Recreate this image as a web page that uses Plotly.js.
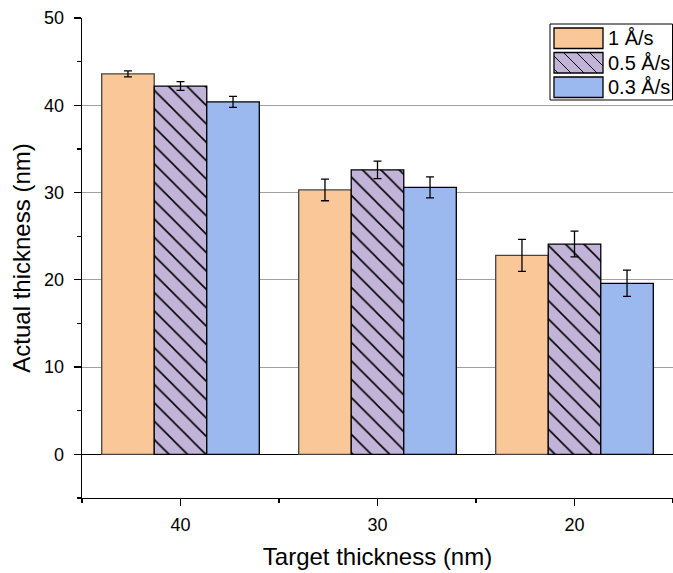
<!DOCTYPE html>
<html>
<head>
<meta charset="utf-8">
<script src="https://cdn.plot.ly/plotly-3.0.1.min.js"></script>
<style>html,body{margin:0;padding:0;background:#fff;}#chart{width:673px;height:573px;}</style>
</head>
<body>
<div id="chart"></div>
<script>
const categories = ['40', '30', '20'];
const seriesNames = ['1 Å/s', '0.5 Å/s', '0.3 Å/s'];
const rate1 = [43.6, 30.3, 22.8];
const rate1Err = [0.35, 1.24, 1.84];
const rate05 = [42.2, 32.6, 24.1];
const rate05Err = [0.5, 1.0, 1.47];
const rate03 = [40.4, 30.6, 19.6];
const rate03Err = [0.63, 1.2, 1.5];

const xpos = categories.map((c, i) => i);
const font = 'Liberation Sans, Arial, sans-serif';
const fills = ['#FAC898', '#C2B4D8', '#9BB9EF'];
const outlines = ['#444', '#000', '#000'];

function errBar(arr) {
  return {type: 'data', array: arr, visible: true, color: '#000', thickness: 1.3, width: 4};
}

const traces = [
  {type: 'bar', name: seriesNames[0], x: xpos, y: rate1, error_y: errBar(rate1Err),
   marker: {color: fills[0], line: {color: outlines[0], width: 1.3}}},
  {type: 'bar', name: seriesNames[1], x: xpos, y: rate05, error_y: errBar(rate05Err),
   marker: {color: fills[1], line: {color: outlines[1], width: 1.3},
            pattern: {shape: '\\', fgcolor: '#000', bgcolor: fills[1], size: 13, solidity: 0.12}}},
  {type: 'bar', name: seriesNames[2], x: xpos, y: rate03, error_y: errBar(rate03Err),
   marker: {color: fills[2], line: {color: outlines[2], width: 1.3}}}
];

// plot area geometry (pixels) for the custom legend
const M = {l: 82, r: 0, t: 18, b: 75};
const W = 673, H = 573;
const pw = W - M.l - M.r, ph = H - M.t - M.b;
const px = v => (v - M.l) / pw;
const py = v => (H - M.b - v) / ph;

const shapes = [];
const annotations = [];
// legend frame
shapes.push({type: 'rect', xref: 'paper', yref: 'paper', x0: px(550), x1: px(672.5), y0: py(100), y1: py(24),
             line: {color: '#000', width: 1}, fillcolor: '#fff', layer: 'above'});
const rowTop = [28, 52.5, 77], swH = 20.5, swX0 = 554, swX1 = 603;
seriesNames.forEach((name, i) => {
  const top = rowTop[i], bot = top + swH;
  shapes.push({type: 'rect', xref: 'paper', yref: 'paper', x0: px(swX0), x1: px(swX1), y0: py(bot), y1: py(top),
               line: {color: '#000', width: 1.3}, fillcolor: fills[i], layer: 'above'});
  if (i === 1) {
    const w = swX1 - swX0, h = swH, step = 13;
    for (let k = -h + 4; k < w; k += step) {
      const t0 = Math.max(0, -k), t1 = Math.min(h, w - k);
      if (t1 > t0) {
        shapes.push({type: 'line', xref: 'paper', yref: 'paper',
                     x0: px(swX0 + k + t0), y0: py(top + t0), x1: px(swX0 + k + t1), y1: py(top + t1),
                     line: {color: '#000', width: 1}, layer: 'above'});
      }
    }
  }
  annotations.push({xref: 'paper', yref: 'paper', x: px(606), y: py(top + swH / 2), xanchor: 'left', yanchor: 'middle',
                    text: name, showarrow: false, font: {size: 20, family: font, color: '#000'}});
});

const layout = {
  width: W, height: H,
  margin: M,
  paper_bgcolor: '#fff', plot_bgcolor: '#fff',
  barmode: 'group', bargap: 0.2, bargroupgap: 0,
  font: {family: font, color: '#000', size: 18},
  showlegend: false,
  xaxis: {
    range: [-0.5, 2.5], tickvals: xpos, ticktext: categories,
    showline: true, linecolor: '#000', linewidth: 1.3,
    ticks: 'outside', ticklen: 7, tickwidth: 1.3, tickcolor: '#000',
    minor: {tickvals: [-0.5, 0.5, 1.5, 2.5], ticks: 'outside', ticklen: 4, tickwidth: 1.3, tickcolor: '#000', showgrid: false},
    showgrid: false, zeroline: false,
    tickfont: {size: 18, family: font}, ticklabelstandoff: 3,
    title: {text: 'Target thickness (nm)', font: {size: 24, family: font}, standoff: 14}
  },
  yaxis: {
    range: [-5, 50], tickvals: [0, 10, 20, 30, 40, 50],
    showline: true, linecolor: '#000', linewidth: 1.3,
    ticks: 'outside', ticklen: 7, tickwidth: 1.3, tickcolor: '#000',
    minor: {tickvals: [-5, 5, 15, 25, 35, 45], ticks: 'outside', ticklen: 4, tickwidth: 1.3, tickcolor: '#000', showgrid: false},
    showgrid: true, gridcolor: '#a0a0a0', gridwidth: 1,
    zeroline: true, zerolinecolor: '#000', zerolinewidth: 1.5,
    tickfont: {size: 18, family: font}, ticklabelstandoff: 6,
    title: {text: 'Actual thickness (nm)', font: {size: 24, family: font}, standoff: 6}
  },
  shapes: shapes,
  annotations: annotations
};

Plotly.newPlot('chart', traces, layout, {displayModeBar: false, staticPlot: true});
</script>
</body>
</html>
